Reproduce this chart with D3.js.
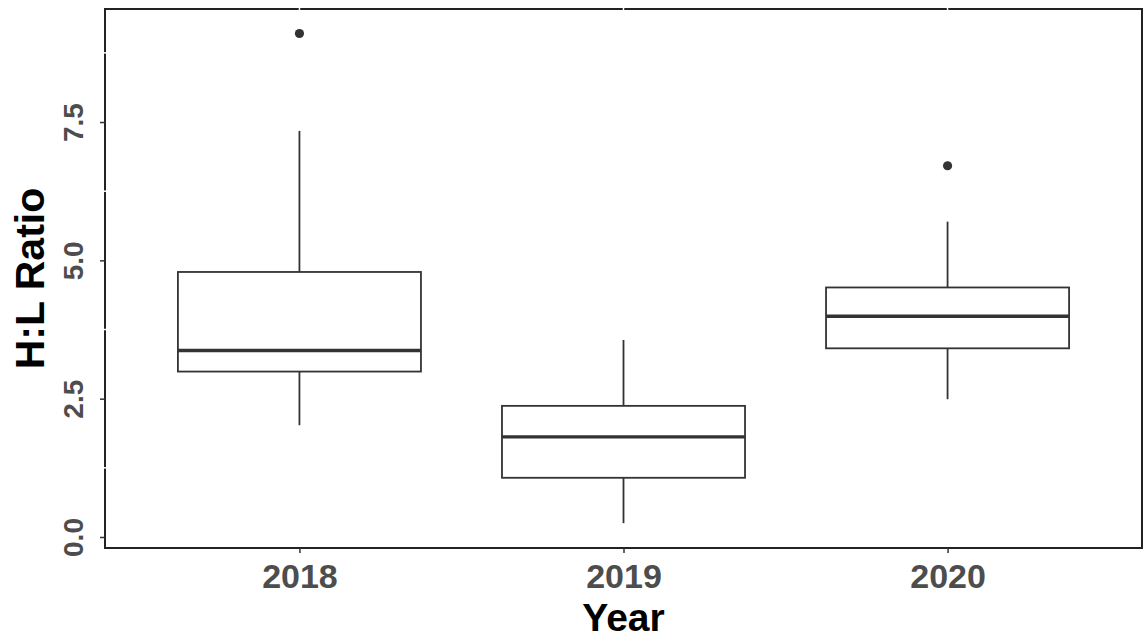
<!DOCTYPE html>
<html>
<head>
<meta charset="utf-8">
<script src="https://cdn.jsdelivr.net/npm/d3@7"></script>
<style>
  body { margin: 0; background: #fff; }
  text { font-family: "Liberation Sans", Arial, sans-serif; }
</style>
</head>
<body>
<div id="my_dataviz"></div>
<script>
// data
const years = ["2018", "2019", "2020"];
const whiskerLow  = [2.02, 0.25, 2.49];
const q1          = [2.99, 1.07, 3.41];
const median      = [3.37, 1.81, 3.99];
const q3          = [4.79, 2.37, 4.51];
const whiskerHigh = [7.34, 3.56, 5.70];
const outliers    = [[9.10], [], [6.71]];
const yTicks = [0, 2.5, 5, 7.5];
const yMinor = [1.25, 3.75, 6.25, 8.75];

const boxes = years.map((y, i) => ({
  year: y, lo: whiskerLow[i], q1: q1[i], med: median[i], q3: q3[i], hi: whiskerHigh[i], out: outliers[i]
}));

// set the dimensions and margins of the graph
const margin = {top: 9, right: 2, bottom: 89, left: 105},
      width = 1144 - margin.left - margin.right,
      height = 637 - margin.top - margin.bottom;

const svg = d3.select("#my_dataviz")
  .append("svg")
    .attr("width", width + margin.left + margin.right)
    .attr("height", height + margin.top + margin.bottom)
  .append("g")
    .attr("transform", `translate(${margin.left},${margin.top})`);

// scales (ggplot style expansion)
const x = d3.scalePoint()
  .domain(years)
  .range([0, width])
  .padding(0.6);
const step = x.step();
const boxW = step * 0.75;

const y = d3.scaleLinear()
  .domain([-0.199, 9.543])
  .range([height, 0]);

const ink = "#333333";

// whiskers
svg.selectAll("whiskLow")
  .data(boxes)
  .join("line")
    .attr("x1", d => x(d.year)).attr("x2", d => x(d.year))
    .attr("y1", d => y(d.lo)).attr("y2", d => y(d.q1))
    .attr("stroke", ink).attr("stroke-width", 1.8);
svg.selectAll("whiskHigh")
  .data(boxes)
  .join("line")
    .attr("x1", d => x(d.year)).attr("x2", d => x(d.year))
    .attr("y1", d => y(d.q3)).attr("y2", d => y(d.hi))
    .attr("stroke", ink).attr("stroke-width", 1.8);

// boxes
svg.selectAll("boxes")
  .data(boxes)
  .join("rect")
    .attr("x", d => x(d.year) - boxW / 2)
    .attr("width", boxW)
    .attr("y", d => y(d.q3))
    .attr("height", d => y(d.q1) - y(d.q3))
    .attr("fill", "white")
    .attr("stroke", ink)
    .attr("stroke-width", 1.8);

// medians
svg.selectAll("medians")
  .data(boxes)
  .join("line")
    .attr("x1", d => x(d.year) - boxW / 2)
    .attr("x2", d => x(d.year) + boxW / 2)
    .attr("y1", d => y(d.med)).attr("y2", d => y(d.med))
    .attr("stroke", ink).attr("stroke-width", 3.4);

// outliers
svg.selectAll("outliers")
  .data(boxes.flatMap(d => d.out.map(v => ({year: d.year, v}))))
  .join("circle")
    .attr("cx", d => x(d.year))
    .attr("cy", d => y(d.v))
    .attr("r", 4.6)
    .attr("fill", ink);

// panel border
svg.append("rect")
  .attr("x", 0).attr("y", 0)
  .attr("width", width).attr("height", height)
  .attr("fill", "none")
  .attr("stroke", "#222")
  .attr("stroke-width", 2);

// white grid lines cutting through the border
svg.selectAll("gridX")
  .data(years)
  .join("line")
    .attr("x1", d => x(d)).attr("x2", d => x(d))
    .attr("y1", -2).attr("y2", 2)
    .attr("stroke", "white").attr("stroke-width", 1.5);
svg.selectAll("gridY")
  .data(yMinor)
  .join("line")
    .attr("x1", -2).attr("x2", 2)
    .attr("y1", d => y(d)).attr("y2", d => y(d))
    .attr("stroke", "white").attr("stroke-width", 1.5);

// Y axis
const yAxis = svg.append("g")
  .call(d3.axisLeft(y).tickValues(yTicks).tickFormat(d3.format(".1f")).tickSize(5).tickSizeOuter(0));
yAxis.select(".domain").remove();
yAxis.selectAll(".tick line").attr("stroke", ink).attr("stroke-width", 1.5).attr("x2", -5);
yAxis.selectAll(".tick text")
  .attr("x", 0).attr("dy", 0)
  .attr("transform", "translate(-22,0) rotate(-90)")
  .attr("text-anchor", "middle")
  .attr("fill", "#4d4d4d")
  .style("font-size", "28px")
  .style("font-weight", "bold");

// X axis
const xAxis = svg.append("g")
  .attr("transform", `translate(0,${height})`)
  .call(d3.axisBottom(x).tickSize(5).tickSizeOuter(0));
xAxis.select(".domain").remove();
xAxis.selectAll(".tick line").attr("stroke", ink).attr("stroke-width", 1.5);
xAxis.selectAll(".tick text")
  .attr("y", 40).attr("dy", 0)
  .attr("fill", "#4d4d4d")
  .style("font-size", "34px")
  .style("font-weight", "bold");

// axis titles
svg.append("text")
  .attr("x", width / 2)
  .attr("y", 631 - margin.top)
  .attr("text-anchor", "middle")
  .style("font-size", "39px")
  .style("font-weight", "bold")
  .attr("fill", "black")
  .text("Year");

svg.append("text")
  .attr("transform", `translate(${44 - margin.left},${height / 2}) rotate(-90)`)
  .attr("text-anchor", "middle")
  .style("font-size", "41px")
  .style("font-weight", "bold")
  .attr("fill", "black")
  .text("H:L Ratio");
</script>
</body>
</html>
